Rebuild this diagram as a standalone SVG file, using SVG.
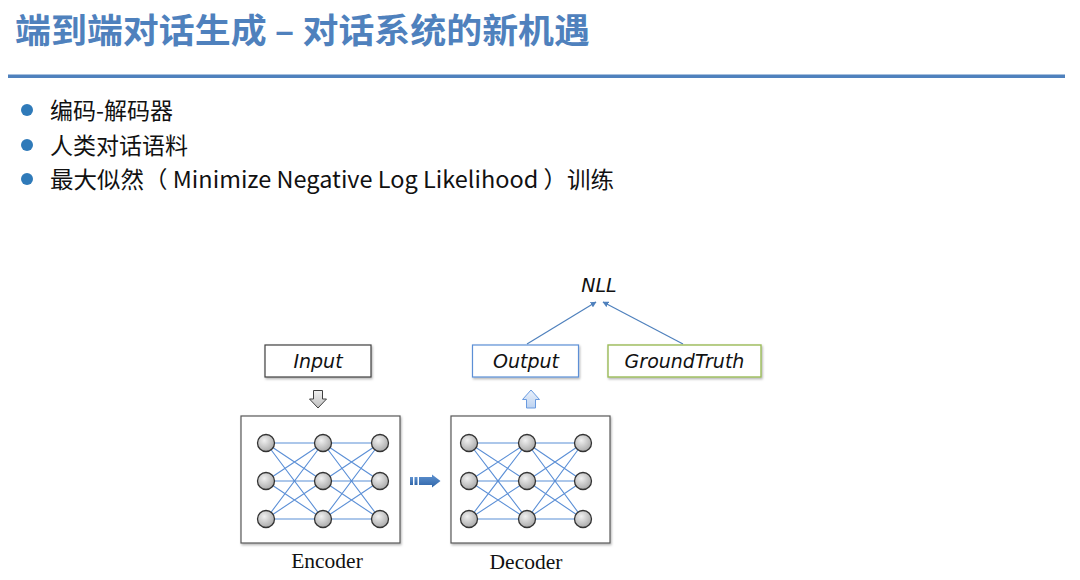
<svg xmlns="http://www.w3.org/2000/svg" width="1080" height="580" viewBox="0 0 1080 580">
<defs>
<radialGradient id="nodeGrad" cx="0.4" cy="0.35" r="0.7">
<stop offset="0" stop-color="#f0f0f0"/>
<stop offset="1" stop-color="#a6a6a6"/>
</radialGradient>
<linearGradient id="grayArrow" x1="0" y1="0" x2="0" y2="1">
<stop offset="0" stop-color="#f2f2f2"/>
<stop offset="1" stop-color="#bfbfbf"/>
</linearGradient>
<linearGradient id="blueLight" x1="0" y1="0" x2="0" y2="1">
<stop offset="0" stop-color="#eaf1fb"/>
<stop offset="1" stop-color="#bcd2f0"/>
</linearGradient>
<linearGradient id="blueDark" x1="0" y1="0" x2="0" y2="1">
<stop offset="0" stop-color="#5f92d0"/>
<stop offset="1" stop-color="#2f65a8"/>
</linearGradient>
<filter id="shadow" x="-10%" y="-20%" width="130%" height="150%">
<feDropShadow dx="1" dy="1.5" stdDeviation="1" flood-color="#000" flood-opacity="0.3"/>
</filter>
<marker id="arrowHead" viewBox="0 0 10 10" refX="9" refY="5" markerWidth="6" markerHeight="6" orient="auto-start-reverse" markerUnits="userSpaceOnUse">
<path d="M0,0 L10,5 L0,10 Z" fill="#4f81bd"/>
</marker>
</defs>
<style>
.title{font-family:"Noto Sans CJK SC","Liberation Sans",sans-serif;font-weight:bold;font-size:34px;fill:#4f81bd}
.bullet{font-family:"Noto Sans CJK SC","Liberation Sans",sans-serif;font-size:23px;fill:#111}
.dot{fill:#2f7ab9}
.lbl{font-family:"DejaVu Sans","Liberation Sans",sans-serif;font-style:italic;font-size:19px;fill:#111;text-anchor:middle}
.cap{font-family:"Liberation Serif",serif;font-size:21.5px;fill:#111;text-anchor:middle}
.frame{fill:#fff;stroke:#595959;stroke-width:1.2}
.node{fill:url(#nodeGrad);stroke:#333;stroke-width:1.3}
.link{stroke:#5b8fd6;stroke-width:1.1;fill:none}
.conn{stroke:#4f81bd;stroke-width:1.2;fill:none}
</style>

<g id="title">
<text class="title" x="15" y="43" textLength="575" lengthAdjust="spacingAndGlyphs">端到端对话生成 – 对话系统的新机遇</text>
<rect x="8" y="74.5" width="1057" height="3.5" fill="#4f81bd"/>
</g>

<g id="bullets">
<circle class="dot" cx="27" cy="110" r="6"/>
<text class="bullet" x="50" y="119">编码-解码器</text>
<circle class="dot" cx="27" cy="145" r="6"/>
<text class="bullet" x="50" y="154">人类对话语料</text>
<circle class="dot" cx="27" cy="179" r="6"/>
<text class="bullet" x="50" y="188" textLength="564" lengthAdjust="spacingAndGlyphs">最大似然（ Minimize Negative Log Likelihood ）训练</text>
</g>

<g id="connectors">
<line class="conn" x1="527" y1="344" x2="596" y2="302" marker-end="url(#arrowHead)"/>
<line class="conn" x1="683" y1="344" x2="603" y2="302" marker-end="url(#arrowHead)"/>
<path id="input-arrow" d="M313.5,390.5 H322.5 V399 H326.5 L318,408 L309.5,399 H313.5 Z" fill="url(#grayArrow)" stroke="#404040" stroke-width="1"/>
<path id="output-arrow" d="M526.5,408 H535.5 V399.5 H539.5 L531,390 L522.5,399.5 H526.5 Z" fill="url(#blueLight)" stroke="#6a9be0" stroke-width="1"/>
<g id="enc-dec-arrow" fill="url(#blueDark)">
<rect x="410" y="477" width="3" height="8"/>
<rect x="414.5" y="477" width="3" height="8"/>
<path d="M419,477 H432 V474.5 L440.5,481 L432,487.5 V485 H419 Z"/>
</g>
</g>

<g id="nll">
<text class="lbl" x="599" y="292">NLL</text>
</g>

<g id="input">
<rect x="265" y="345" width="106" height="32" fill="#fff" stroke="#404040" stroke-width="1.2" filter="url(#shadow)"/>
<text class="lbl" x="318" y="368">Input</text>
</g>

<g id="output">
<rect x="472.5" y="345" width="106" height="32" fill="#fff" stroke="#5b8fd6" stroke-width="1.2" filter="url(#shadow)"/>
<text class="lbl" x="526" y="368">Output</text>
</g>

<g id="groundtruth">
<rect x="608" y="345" width="153" height="32" fill="#fff" stroke="#9bbb59" stroke-width="1.4" filter="url(#shadow)"/>
<text class="lbl" x="684.5" y="368">GroundTruth</text>
</g>

<g id="encoder">
<rect class="frame" x="241" y="416" width="159" height="127" filter="url(#shadow)"/>
<g class="link">
<path d="M266,443 L323,443 M266,443 L323,481 M266,443 L323,519 M266,481 L323,443 M266,481 L323,481 M266,481 L323,519 M266,519 L323,443 M266,519 L323,481 M266,519 L323,519"/>
<path d="M323,443 L380,443 M323,443 L380,481 M323,443 L380,519 M323,481 L380,443 M323,481 L380,481 M323,481 L380,519 M323,519 L380,443 M323,519 L380,481 M323,519 L380,519"/>
</g>
<circle class="node" cx="266" cy="443" r="8.5"/>
<circle class="node" cx="266" cy="481" r="8.5"/>
<circle class="node" cx="266" cy="519" r="8.5"/>
<circle class="node" cx="323" cy="443" r="8.5"/>
<circle class="node" cx="323" cy="481" r="8.5"/>
<circle class="node" cx="323" cy="519" r="8.5"/>
<circle class="node" cx="380" cy="443" r="8.5"/>
<circle class="node" cx="380" cy="481" r="8.5"/>
<circle class="node" cx="380" cy="519" r="8.5"/>
<text class="cap" x="327" y="568">Encoder</text>
</g>

<g id="decoder">
<rect class="frame" x="451" y="416" width="159" height="127" filter="url(#shadow)"/>
<g class="link">
<path d="M469,443 L527,443 M469,443 L527,481 M469,443 L527,519 M469,481 L527,443 M469,481 L527,481 M469,481 L527,519 M469,519 L527,443 M469,519 L527,481 M469,519 L527,519"/>
<path d="M527,443 L583,443 M527,443 L583,481 M527,443 L583,519 M527,481 L583,443 M527,481 L583,481 M527,481 L583,519 M527,519 L583,443 M527,519 L583,481 M527,519 L583,519"/>
</g>
<circle class="node" cx="469" cy="443" r="8.5"/>
<circle class="node" cx="469" cy="481" r="8.5"/>
<circle class="node" cx="469" cy="519" r="8.5"/>
<circle class="node" cx="527" cy="443" r="8.5"/>
<circle class="node" cx="527" cy="481" r="8.5"/>
<circle class="node" cx="527" cy="519" r="8.5"/>
<circle class="node" cx="583" cy="443" r="8.5"/>
<circle class="node" cx="583" cy="481" r="8.5"/>
<circle class="node" cx="583" cy="519" r="8.5"/>
<text class="cap" x="526" y="569">Decoder</text>
</g>
</svg>
